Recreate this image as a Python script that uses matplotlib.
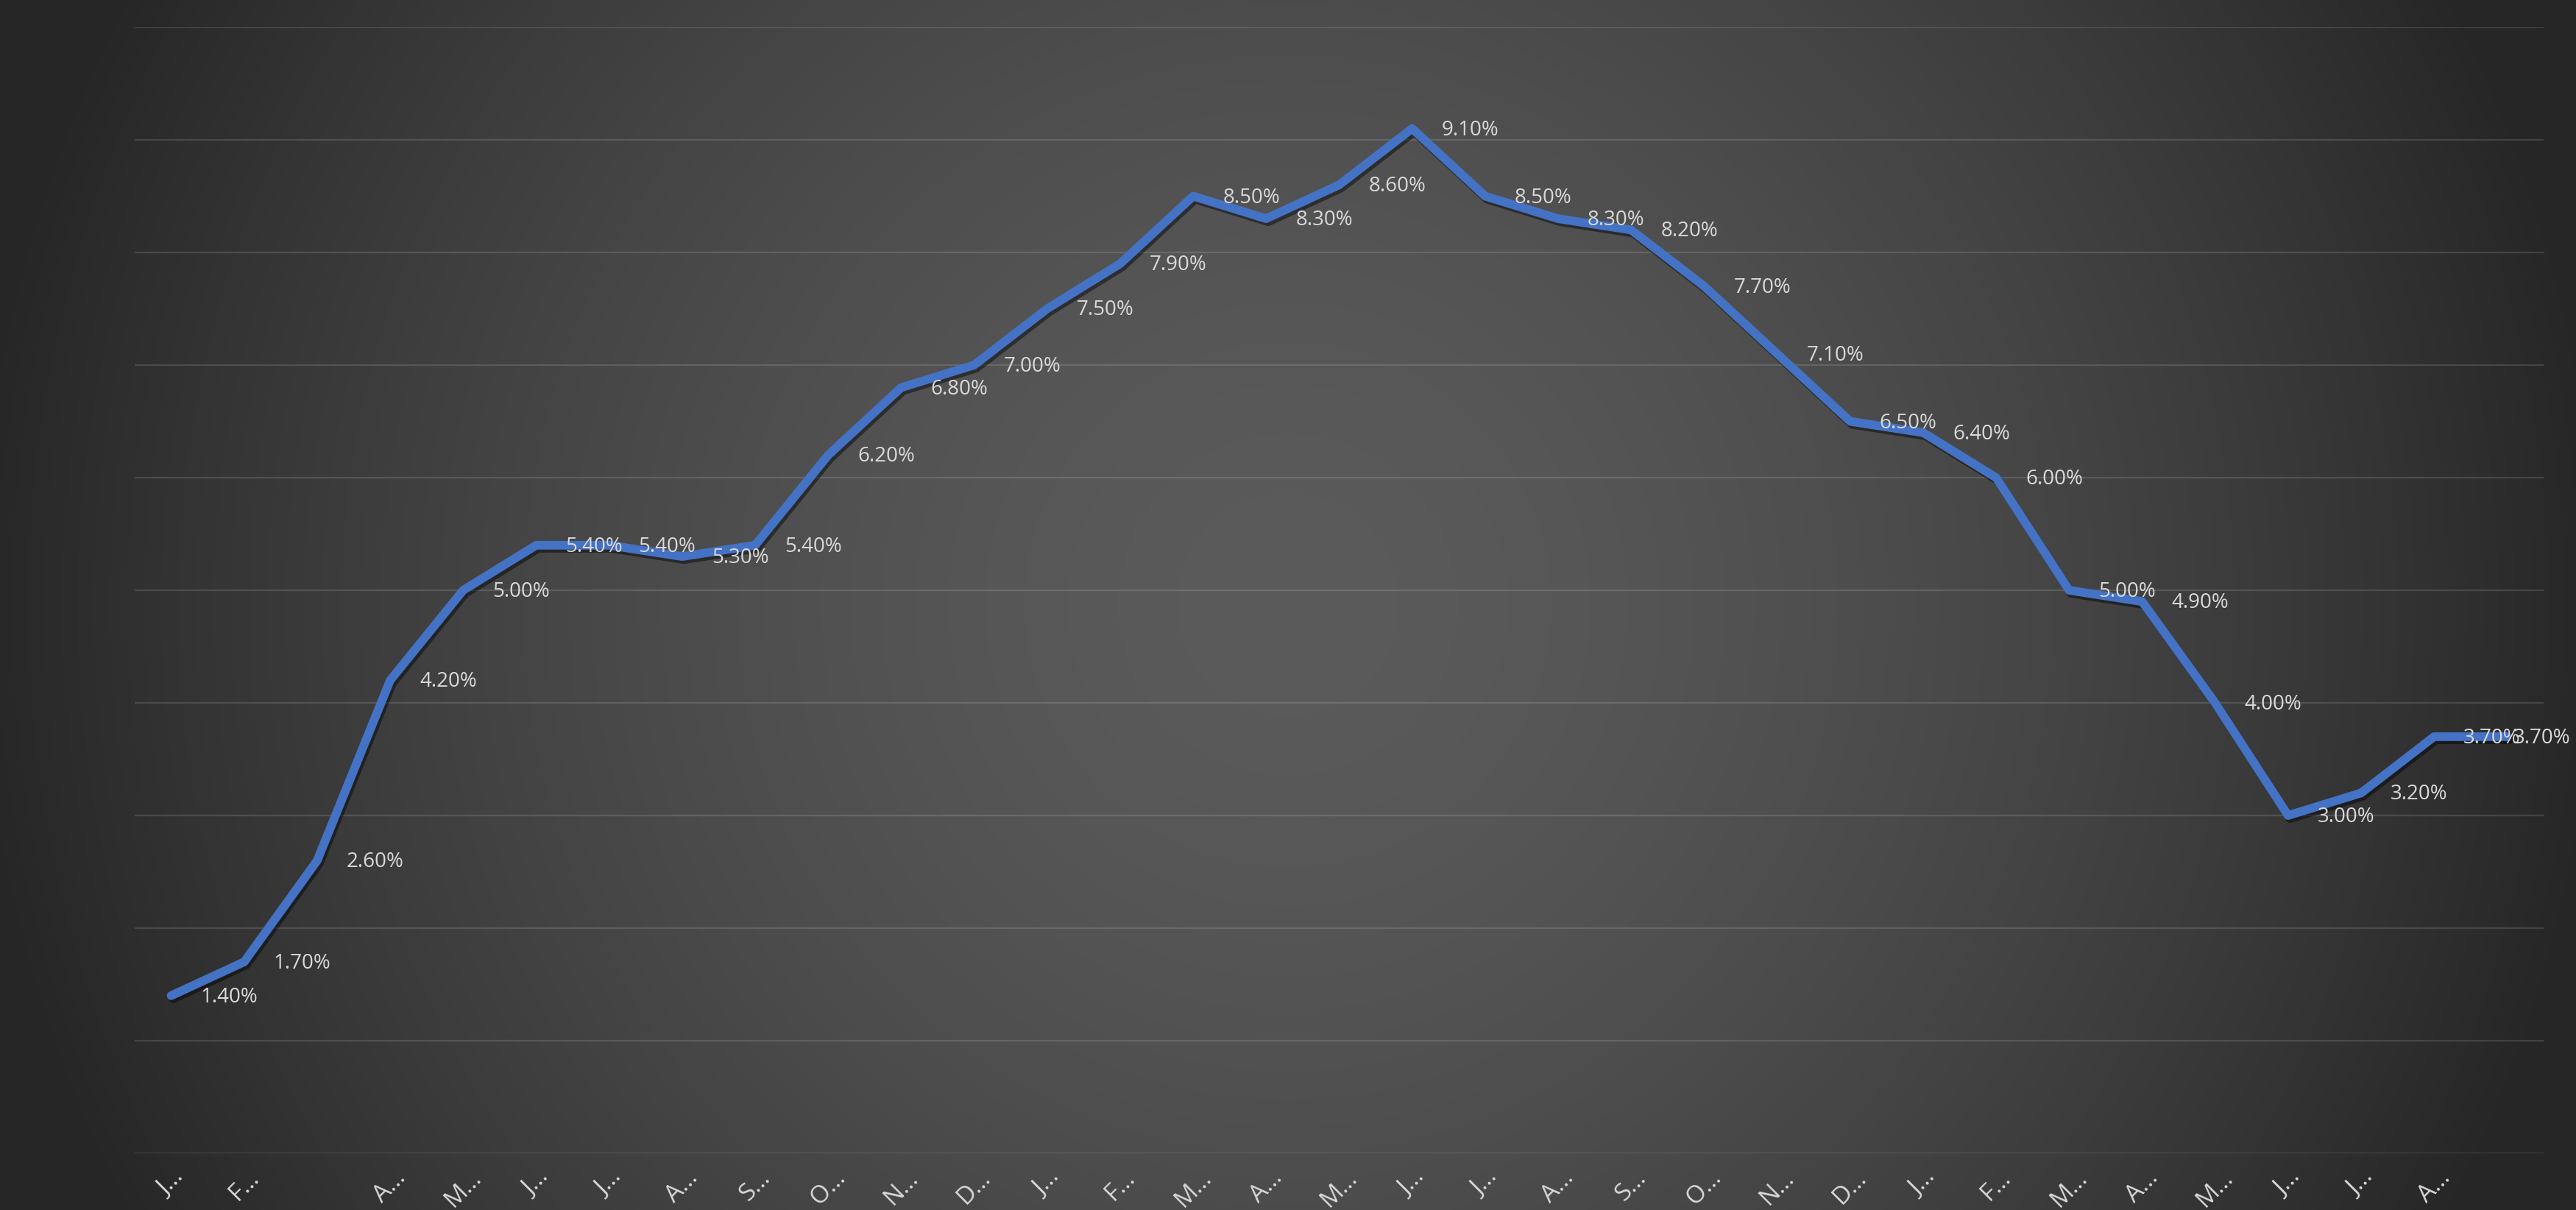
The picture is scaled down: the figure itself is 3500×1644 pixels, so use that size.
import numpy as np
import matplotlib
matplotlib.use("Agg")
import matplotlib.pyplot as plt
import matplotlib.patheffects as pe

# ---- data ----
months = ["Jan", "Feb", "Mar", "Apr", "May", "Jun", "Jul", "Aug", "Sep", "Oct", "Nov", "Dec",
          "Jan", "Feb", "Mar", "Apr", "May", "Jun", "Jul", "Aug", "Sep", "Oct", "Nov", "Dec",
          "Jan", "Feb", "Mar", "Apr", "May", "Jun", "Jul", "Aug", "Sep"]
tick_labels = ["J…", "F…", "", "A…", "M…", "J…", "J…", "A…", "S…", "O…", "N…", "D…",
               "J…", "F…", "M…", "A…", "M…", "J…", "J…", "A…", "S…", "O…", "N…", "D…",
               "J…", "F…", "M…", "A…", "M…", "J…", "J…", "A…", ""]
values = [1.4, 1.7, 2.6, 4.2, 5.0, 5.4, 5.4, 5.3, 5.4, 6.2, 6.8, 7.0,
          7.5, 7.9, 8.5, 8.3, 8.6, 9.1, 8.5, 8.3, 8.2, 7.7, 7.1, 6.5,
          6.4, 6.0, 5.0, 4.9, 4.0, 3.0, 3.2, 3.7, 3.7]

W, H, DPI = 3500, 1644, 100
plt.rcParams['font.family'] = ['Open Sans', 'DejaVu Sans']
fig = plt.figure(figsize=(W / DPI, H / DPI), dpi=DPI)

# radial gradient background
bg = fig.add_axes([0, 0, 1, 1], zorder=-10)
gx = np.linspace(0, W, 700)
gy = np.linspace(0, H, 330)
XX, YY = np.meshgrid(gx, gy)
d = np.sqrt((XX - W / 2) ** 2 + (YY - H / 2) ** 2) / 1800.0
d = np.clip(d, 0, 1)
v = (0x5b - (0x5b - 0x26) * d ** 1.6) / 255.0
img = np.dstack([v, v, v])
bg.imshow(img, extent=[0, 1, 0, 1], aspect='auto', interpolation='bilinear', origin='upper')
bg.set_xlim(0, 1)
bg.set_ylim(0, 1)
bg.axis('off')

left = 183 / W
right = 3456 / W
bottom = (H - 1567) / H
top = (H - 37) / H
ax = fig.add_axes([left, bottom, right - left, top - bottom])
ax.patch.set_alpha(0)

x = np.arange(len(values))
ax.plot(x, values, color='#4472C4', lw=8.5, solid_joinstyle='round', solid_capstyle='round',
        zorder=5,
        path_effects=[pe.SimpleLineShadow(offset=(2, -3), shadow_color='black', alpha=0.45),
                      pe.Normal()])

labels = []
for xi, val in zip(x, values):
    t = ax.annotate(f"{val:.2f}%", (xi, val), xytext=(40, -2), textcoords='offset pixels',
                    ha='left', va='center', fontsize=20, color='#D9D9D9', zorder=6)
    labels.append(t)

ax.set_xlim(-0.5, len(values) - 0.5)
ax.set_ylim(0, 10)
ax.set_yticks(np.arange(0, 11, 1))
ax.yaxis.grid(True, color='#FFFFFF', alpha=0.13, lw=1.6)
ax.set_axisbelow(True)
ax.tick_params(axis='y', left=False, labelleft=False)
ax.set_xticks(x)
ax.set_xticklabels(tick_labels, rotation=45, ha='center', va='top', rotation_mode='default',
                   fontsize=24, color='#D9D9D9')
ax.tick_params(axis='x', length=0, pad=12)
for s in ax.spines.values():
    s.set_visible(False)

# keep data labels inside the figure (shift left like the reference does)
fig.canvas.draw()
renderer = fig.canvas.get_renderer()
for t in labels:
    bb = t.get_window_extent(renderer)
    limit = W - 8
    if bb.x1 > limit:
        ox, oy = t.xyann
        t.xyann = (ox - (bb.x1 - limit), oy)

fig.savefig('out.png', dpi=DPI)
